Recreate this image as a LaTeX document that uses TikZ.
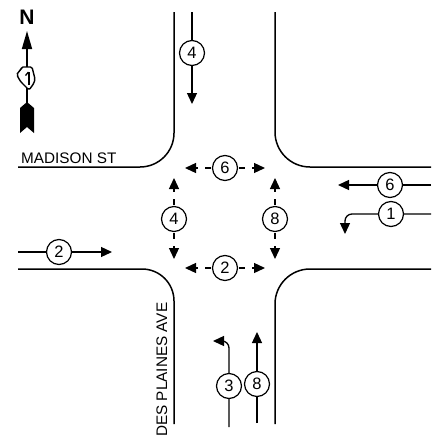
\documentclass[tikz,border=0pt]{standalone}
\usepackage{fontspec}
\setmainfont{Liberation Sans}
\usetikzlibrary{arrows.meta,calc}
\begin{document}
\begin{tikzpicture}[x=1pt,y=-1pt,
  curb/.style={line width=1.5pt},
  tipstyle/.style={-{Triangle[length=11pt,width=10pt]}},
  mv/.style={line width=1.3pt, tipstyle},
  num/.style={circle,draw,line width=1.2pt,fill=white,minimum size=25pt,inner sep=0pt,font=\fontsize{16.5}{16.5}\selectfont},
  ped/.style={line width=1.3pt, tipstyle, dash pattern=on 6pt off 7pt on 20pt off 1pt, dash phase=33pt},
  lbl/.style={font=\fontsize{15.3}{16}\selectfont, inner sep=0pt}]
\useasboundingbox (0,0) rectangle (433,439);
% curbs
\draw[curb, rounded corners=34pt] (174,12) -- (174,167) -- (18,167);
\draw[curb, rounded corners=35pt] (275,12) -- (275,167) -- (431,167);
\draw[curb, rounded corners=32pt] (18,269) -- (174,269) -- (174,424);
\draw[curb, rounded corners=35pt] (431,269) -- (275,269) -- (275,424);
% street labels
\node[lbl, anchor=base west] (madison) at (21,163) {MADISON ST};
\node[lbl, anchor=base west, rotate=90] (desplaines) at (167,437) {DES PLAINES AVE};
% vehicle movements
\node[num] (n4) at (192,53) {4};
\coordinate (a4) at (192,12); \coordinate (b4) at (192,104);
\draw[mv] (a4) -- (n4) -- (b4);
\node[num] (n6) at (390,185) {6};
\coordinate (a6) at (431,185); \coordinate (b6) at (338,185);
\draw[mv] (a6) -- (n6) -- (b6);
\node[num] (n1) at (391,214) {1};
\coordinate (a1) at (431,214); \coordinate (c1) at (345,214); \coordinate (b1) at (345,234);
\draw[mv, rounded corners=7pt] (a1) -- (n1) -- (c1) -- (b1);
\node[num] (n2) at (59,252) {2};
\coordinate (a2) at (18,252); \coordinate (b2) at (112,252);
\draw[mv] (a2) -- (n2) -- (b2);
\node[num] (n3) at (229,386) {3};
\coordinate (a3) at (229,427); \coordinate (c3) at (229,341); \coordinate (b3) at (213,341);
\draw[mv, rounded corners=7pt] (a3) -- (n3) -- (c3) -- (b3);
\node[num] (n8) at (257,384) {8};
\coordinate (a8) at (257,423); \coordinate (b8) at (257,332);
\draw[mv] (a8) -- (n8) -- (b8);
% pedestrian movements
\node[num] (p6) at (225,168) {6};
\coordinate (p6l) at (185,168); \coordinate (p6r) at (265,168);
\draw[ped] (p6) -- (p6l); \draw[ped] (p6) -- (p6r);
\node[num] (p2) at (225,268) {2};
\coordinate (p2l) at (185,268); \coordinate (p2r) at (265,268);
\draw[ped] (p2) -- (p2l); \draw[ped] (p2) -- (p2r);
\node[num] (p4) at (174,219) {4};
\coordinate (p4u) at (174,178); \coordinate (p4d) at (174,259);
\draw[ped] (p4) -- (p4u); \draw[ped] (p4) -- (p4d);
\node[num] (p8) at (275,219) {8};
\coordinate (p8u) at (275,178); \coordinate (p8d) at (275,259);
\draw[ped] (p8) -- (p8u); \draw[ped] (p8) -- (p8d);
% north arrow
\node[font=\fontsize{21}{21}\selectfont\bfseries, inner sep=0pt] (north) at (27,17) {N};
\coordinate (cs) at (27,104); \coordinate (ct) at (27,31);
\draw[line width=1.6pt, -{Triangle[length=18pt,width=10pt]}] (cs) -- (ct);
\draw[line width=1.4pt, fill=white, rounded corners=1.5pt] (21.5,67) -- (32,67) -- (33,71) -- (34,75) -- (35,79) -- (34,83) -- (32,86) -- (29,90) -- (27,88) -- (24,85) -- (21,82) -- (19,79) -- (17,75) -- (18,72) -- (20.5,70.5) -- cycle;
\draw[line width=2pt] (28.5,72) -- (28.5,85);
\draw[line width=1.3pt] (25.5,75.5) -- (28.5,72);
\fill (27,102) -- (34,108) -- (34,133) -- (27,127) -- (20,133) -- (20,108) -- cycle;
\end{tikzpicture}
\end{document}
